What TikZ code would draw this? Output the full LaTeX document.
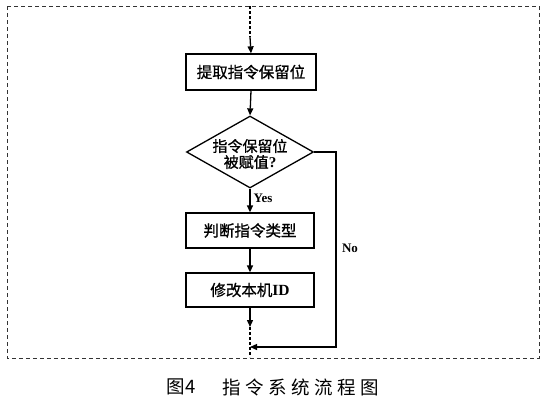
\documentclass[tikz,border=0pt]{standalone}
\usepackage{fontspec}
\setmainfont{Liberation Serif}
\newfontfamily\cjk[FakeBold=1]{Noto Sans CJK SC}
\newfontfamily\cjkcap{Noto Sans CJK SC}
\newfontfamily\lat{Liberation Serif}
\usetikzlibrary{arrows.meta,shapes.geometric}
\begin{document}
\begin{tikzpicture}[x=1pt,y=-1pt,
  line width=1.3pt,
  >={Triangle[length=7pt,width=6pt]},
  procbox/.style={draw,rectangle,inner sep=0pt,font=\fontsize{15.5}{18}\cjk},
  decision/.style={draw,diamond,inner sep=0pt,minimum width=127pt,minimum height=72pt},
  frame/.style={draw=black!80,line width=0.8pt,dash pattern=on 4pt off 3pt},
  dotline/.style={line width=1.4pt,dash pattern=on 2.5pt off 2.5pt},
  lbl/.style={font=\fontsize{13}{15}\lat\bfseries,inner sep=0pt}]
\useasboundingbox (0,0) rectangle (558,400);
\draw[frame] (7,6) rectangle (539,358);

\node[procbox,minimum width=130pt,minimum height=36pt] (b1) at (251,72) {提取指令保留位};
\node[decision] (d) at (250,152) {};
\node[font=\fontsize{15}{16}\cjk,align=center,inner sep=0pt] (dt) at (250,154) {指令保留位\\被赋值{\lat\bfseries ?}};
\node[procbox,minimum width=128pt,minimum height=35pt] (b2) at (250,230.5) {判断指令类型};
\node[procbox,minimum width=128pt,minimum height=34pt] (b3) at (250,290) {修改本机{\lat\bfseries ID}};

\coordinate (t0) at (250,6);
\coordinate (t1) at (250,37);
\coordinate (u0) at (250,327);
\coordinate (u1) at (250,357);
\coordinate (rc) at (336,152);
\coordinate (rb) at (336,347);
\coordinate (ret) at (250,347);

\draw[dotline] (t0) -- (t1);
\draw[->] (t1) -- (b1.north);
\draw[->] (b1.south) -- (d.north);
\draw[->] (d.south) -- (b2.north) node[lbl,pos=0.4,right=3pt] (yes) {Yes};
\draw[->] (b2.south) -- (b3.north);
\draw[->] (b3.south) -- (u0);
\draw[dotline] (u0) -- (u1);
\draw[->] (d.east) -- (rc) -- (rb) -- (ret);
\node[lbl] (no) at (350,248) {No};

\node[font=\fontsize{18.5}{20}\cjkcap,inner sep=0pt,anchor=west] (cap1) at (166,387) {图4};
\node[font=\fontsize{18.5}{20}\cjkcap,inner sep=0pt,anchor=west] (cap2) at (222,387) {指\hspace{4.5pt}令\hspace{4.5pt}系\hspace{4.5pt}统\hspace{4.5pt}流\hspace{4.5pt}程\hspace{4.5pt}图};
\end{tikzpicture}
\end{document}
